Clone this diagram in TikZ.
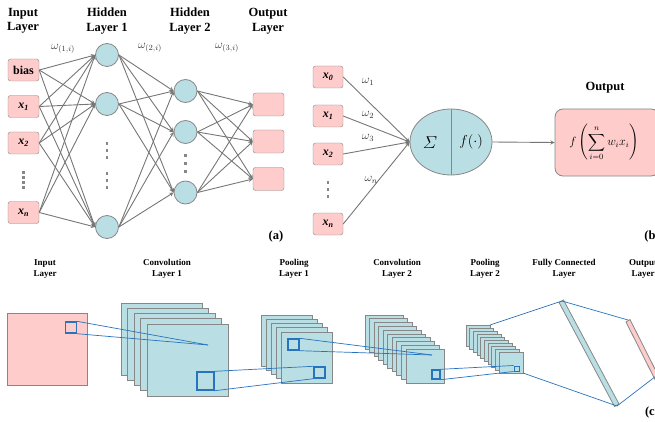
\documentclass[tikz,border=0pt]{standalone}
\usepackage{fontspec}
\setmainfont{Liberation Serif}
\usepackage{amsmath}
\usetikzlibrary{arrows,shapes,positioning}
\definecolor{nnpink}{RGB}{255,204,204}
\definecolor{nncyan}{RGB}{185,223,228}
\definecolor{nngray}{RGB}{135,135,135}
\definecolor{nnedge}{RGB}{118,118,118}
\definecolor{nnblue}{RGB}{40,115,190}
\tikzstyle{unit}=[draw=nngray,fill=nnpink,rounded corners=2.5pt,minimum width=31pt,minimum height=22pt,inner sep=0pt,font=\fontsize{12}{14}\selectfont\bfseries]
\tikzstyle{neuron}=[circle,draw=nngray,line width=0.8pt,fill=nncyan,minimum size=23pt,inner sep=0pt]
\tikzstyle{edge}=[nnedge,line width=0.9pt,->]
\tikzstyle{heading}=[align=center,font=\fontsize{12.5}{14.5}\selectfont\bfseries]
\tikzstyle{subheading}=[align=center,font=\fontsize{9}{11.5}\selectfont\bfseries]
\tikzstyle{weight}=[font=\fontsize{12}{14}\selectfont,text=black!80]
\tikzstyle{sheet}=[draw=nngray,fill=nncyan,line width=0.8pt]
\tikzstyle{window}=[draw=nnblue,line width=1.4pt,inner sep=0pt]
\tikzstyle{ray}=[nnblue,line width=0.7pt]
\tikzstyle{dots}=[nngray]

\begin{document}
\begin{tikzpicture}[x=1pt,y=-1pt,>=stealth]
  \useasboundingbox (0,0) rectangle (655,422);

  %%% (a) multilayer perceptron
  \node[heading] (t-in) at (23,21) {Input\\Layer};
  \node[heading] (t-h1) at (107,21) {Hidden\\Layer 1};
  \node[heading] (t-h2) at (190,21) {Hidden\\Layer 2};
  \node[heading] (t-out) at (268,21) {Output\\Layer};

  \node[weight] (w1) at (63,49) {$\omega_{(1,i)}$};
  \node[weight] (w2) at (150,48) {$\omega_{(2,i)}$};
  \node[weight] (w3) at (227,48) {$\omega_{(3,i)}$};

  % input layer
  \node[unit] (bias) at (23.5,70) {bias};
  \node[unit] (x1) at (23.5,106.5) {\textit{x\textsubscript{1}}};
  \node[unit] (x2) at (23.5,143) {\textit{x\textsubscript{2}}};
  \node[unit] (xn) at (23.5,212.5) {\textit{x\textsubscript{n}}};
  \foreach \y in {171,176,181,186} { \fill[dots] (22.2,\y) rectangle ++(2.6,2.6); }

  % hidden layer 1
  \node[neuron] (ha) at (107,55) {};
  \node[neuron] (hb) at (107,104) {};
  \node[neuron] (hc) at (107,227) {};
  \foreach \y in {142,149,156,172,179,186} { \fill[dots] (105.7,\y) rectangle ++(2.6,2.6); }

  % hidden layer 2
  \node[neuron] (ga) at (185.5,91) {};
  \node[neuron] (gb) at (185.5,132) {};
  \node[neuron] (gc) at (185.5,192.5) {};
  \foreach \y in {154,162,170} { \fill[dots] (184.2,\y) rectangle ++(2.6,2.6); }

  % output layer
  \node[unit,minimum height=23pt] (oa) at (268.5,104.5) {};
  \node[unit,minimum height=23pt] (ob) at (268.5,141.5) {};
  \node[unit,minimum height=23pt] (oc) at (268.5,179) {};

  \foreach \s in {bias,x1,x2,xn} { \foreach \t in {ha,hb,hc} { \draw[edge] (\s.east) -- (\t.west); } }
  \foreach \s in {ha,hb,hc} { \foreach \t in {ga,gb,gc} { \draw[edge] (\s.east) -- (\t.west); } }
  \foreach \s in {ga,gb,gc} { \foreach \t in {oa,ob,oc} { \draw[edge] (\s.east) -- (\t.west); } }

  \node[heading] (lab-a) at (276,236) {(a)};

  %%% (b) single neuron
  \node[unit,minimum width=30pt] (y0) at (328,77) {\textit{x\textsubscript{0}}};
  \node[unit,minimum width=30pt] (y1) at (328,116) {\textit{x\textsubscript{1}}};
  \node[unit,minimum width=30pt] (y2) at (328,154) {\textit{x\textsubscript{2}}};
  \node[unit,minimum width=30pt] (yn) at (328,224) {\textit{x\textsubscript{n}}};
  \foreach \y in {181,188,195} { \fill[dots] (326.7,\y) rectangle ++(2.6,2.6); }

  \node[ellipse,draw=nngray,line width=0.8pt,fill=nncyan,minimum width=82pt,minimum height=66pt] (cell) at (451,142) {};
  \draw[nngray,line width=0.8pt] (cell.north) -- (cell.south);
  \node[font=\fontsize{17}{19}\selectfont] (sum) at (430,143) {$\varSigma$};
  \node[font=\fontsize{15}{17}\selectfont] (act) at (471,142) {$f(\cdot)$};

  \foreach \s in {y0,y1,y2,yn} { \draw[edge] (\s.east) -- (cell.west); }
  \node[weight] (v1) at (368,82) {$\omega_1$};
  \node[weight] (v2) at (368,115) {$\omega_2$};
  \node[weight] (v3) at (368,138) {$\omega_3$};
  \node[weight] (vn) at (371,180) {$\omega_n$};

  \node[draw=nngray,line width=0.8pt,fill=nnpink,rounded corners=8pt,minimum width=104pt,minimum height=67pt,inner sep=0pt] (res) at (607,142.5) {};
  \node[font=\fontsize{11.5}{13}\selectfont] (formula) at (604,142.5) {$\displaystyle f\left(\sum_{i=0}^{n} w_i x_i\right)$};
  \node[heading] (t-res) at (605,88) {Output};
  \draw[edge] (cell.east) -- (res.west);

  \node[heading] (lab-b) at (652,236) {(b)};

  %%% (c) convolutional network
  \node[subheading] (c-in) at (45,269) {Input\\Layer};
  \node[subheading] (c-c1) at (167,269) {Convolution\\Layer 1};
  \node[subheading] (c-p1) at (294,269) {Pooling\\Layer 1};
  \node[subheading] (c-c2) at (397,269) {Convolution\\Layer 2};
  \node[subheading] (c-p2) at (485,269) {Pooling\\Layer 2};
  \node[subheading] (c-fc) at (564,269) {Fully Connected\\Layer};
  \node[subheading] (c-out) at (643,269) {Output\\Layer};

  % feature maps
  \draw[draw=nngray,line width=0.8pt,fill=nnpink] (7,313) rectangle (87,385);
  \foreach \i in {0,...,4} { \draw[sheet] ({121+6.5*\i},{303+5.25*\i}) rectangle ++(81,72); }
  \foreach \i in {0,...,4} { \draw[sheet] ({261+5*\i},{315+4.25*\i}) rectangle ++(51,51); }
  \foreach \i in {0,...,9} { \draw[sheet] ({365+4.55*\i},{315+3.8*\i}) rectangle ++(38,34); }
  \foreach \i in {0,...,9} { \draw[sheet] ({466+3.67*\i},{325+3*\i}) rectangle ++(24,21); }

  % dense layers
  \draw[sheet] (559,302.5) -- (563.5,300) -- (619,404) -- (614.5,406.5) -- cycle;
  \draw[draw=nngray,line width=0.8pt,fill=nnpink] (626,322) -- (630,319.5) -- (662,383) -- (658,385.5) -- cycle;

  % receptive fields
  \node[window,minimum width=10.5pt,minimum height=11pt] (win-in) at (71,327.5) {};
  \node[window,minimum width=17pt,minimum height=18pt] (win-c1) at (205.5,381) {};
  \node[window,minimum size=11pt] (win-p1a) at (293.5,344.5) {};
  \node[window,minimum size=11pt] (win-p1b) at (319.5,372.5) {};
  \node[window,minimum width=8pt,minimum height=9pt] (win-c2) at (436,374.5) {};
  \node[window,minimum size=5pt,line width=1pt] (win-p2) at (516.5,368.5) {};

  \coordinate (hit-c1) at (208,345);
  \coordinate (hit-c2) at (432,355);
  \coordinate (p2-back) at (490,325);
  \coordinate (p2-front) at (523,373);
  \coordinate (fc-top) at (562,301);
  \coordinate (fc-bot) at (617,406);
  \coordinate (o-top) at (628,320);
  \coordinate (o-bot) at (660,373);

  \draw[ray] (win-in.north east) -- (hit-c1);
  \draw[ray] (win-in.south east) -- (hit-c1);
  \draw[ray] (win-c1.north east) -- (win-p1b.north west);
  \draw[ray] (win-c1.south east) -- (win-p1b.south west);
  \draw[ray] (win-p1a.north east) -- (hit-c2);
  \draw[ray] (win-p1a.south east) -- (hit-c2);
  \draw[ray] (win-c2.north east) -- (win-p2.north west);
  \draw[ray] (win-c2.south east) -- (win-p2.south west);
  \draw[ray] (p2-back) -- (fc-top);
  \draw[ray] (p2-front) -- (fc-bot);
  \draw[ray] (fc-top) -- (o-top);
  \draw[ray] (fc-bot) -- (o-bot);

  \node[heading] (lab-c) at (652,412) {(c)};

\end{tikzpicture}
\end{document}
